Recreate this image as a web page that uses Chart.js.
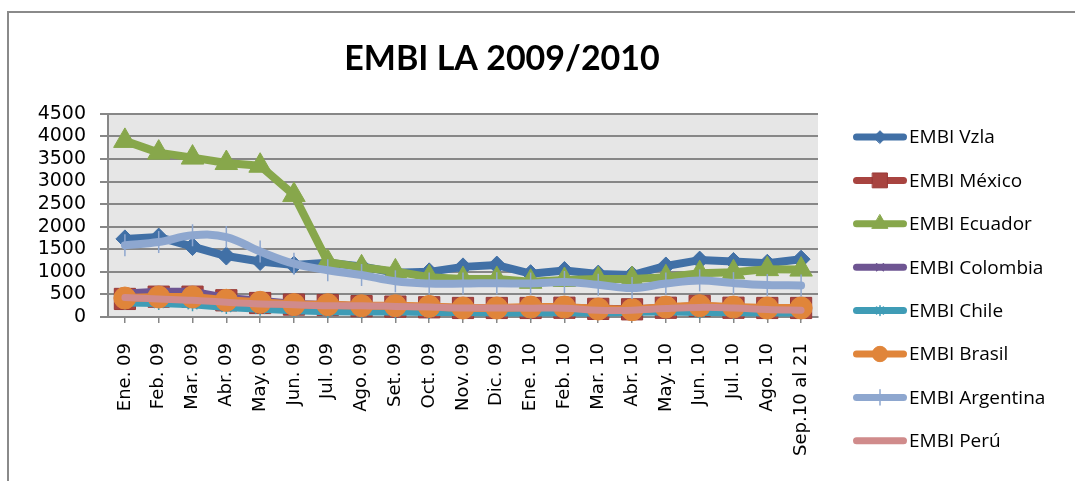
<!DOCTYPE html>
<html>
<head>
<meta charset="utf-8">
<title>EMBI LA 2009/2010</title>
<script src="https://cdn.jsdelivr.net/npm/chart.js@4"></script>
<style>
  html, body { margin: 0; padding: 0; background: #fff; }
  #wrap { position: relative; width: 1075px; height: 481px; overflow: hidden; }
</style>
</head>
<body>
<div id="wrap"><canvas id="embiChart" width="1075" height="481"></canvas></div>
<script>
// Categories (months)
const months = [
    'Ene. 09', 'Feb. 09', 'Mar. 09', 'Abr. 09', 'May. 09', 'Jun. 09',
    'Jul. 09', 'Ago. 09', 'Set. 09', 'Oct. 09', 'Nov. 09', 'Dic. 09',
    'Ene. 10', 'Feb. 10', 'Mar. 10', 'Abr. 10', 'May. 10', 'Jun. 10',
    'Jul. 10', 'Ago. 10', 'Sep.10 al 21'
];

// Series values (basis points)
const embiVzla      = [1730, 1770, 1560, 1350, 1230, 1150, 1200, 1120, 980, 1000, 1110, 1150, 960, 1030, 950, 930, 1130, 1260, 1230, 1190, 1280];
const embiMexico    = [400, 450, 450, 370, 310, 275, 265, 240, 230, 215, 200, 200, 200, 205, 180, 170, 205, 245, 205, 200, 200];
const embiEcuador   = [3900, 3640, 3530, 3410, 3350, 2700, 1220, 1100, 1010, 880, 840, 840, 780, 820, 840, 840, 880, 970, 990, 1060, 1050];
const embiColombia  = [520, 560, 560, 420, 360, 290, 260, 230, 220, 200, 190, 190, 180, 170, 160, 160, 180, 170, 160, 170, 170];
const embiChile     = [320, 310, 280, 220, 180, 150, 130, 120, 120, 110, 110, 100, 100, 105, 95, 115, 120, 110, 105, 100, 100];
const embiBrasil    = [420, 443, 443, 370, 325, 275, 273, 250, 250, 235, 200, 200, 220, 220, 177, 162, 220, 250, 220, 200, 200];
const embiArgentina = [1590, 1660, 1810, 1770, 1450, 1180, 1035, 930, 790, 740, 740, 750, 740, 775, 715, 640, 740, 810, 750, 710, 700];
const embiPeru      = [430, 400, 370, 325, 290, 273, 250, 250, 235, 220, 200, 200, 195, 195, 150, 150, 190, 213, 200, 165, 150];

// Y axis ticks
const yTicks = [0, 500, 1000, 1500, 2000, 2500, 3000, 3500, 4000, 4500];

const GRID = '#878787';

function series(label, data, color, marker, extra) {
    return Object.assign({
        label: label,
        data: data,
        borderColor: color,
        backgroundColor: color,
        borderWidth: 8,
        borderJoinStyle: 'round',
        borderCapStyle: 'round',
        pointStyle: marker,
        pointBackgroundColor: color,
        pointBorderColor: color,
        pointBorderWidth: 1,
        pointRadius: 7,
        tension: 0,
        clip: false
    }, extra || {});
}

const datasets = [
    series('EMBI Vzla', embiVzla, '#4170a6', 'rectRot', { pointRadius: 9, order: 8 }),
    series('EMBI México', embiMexico, '#a84440', 'rect', { pointRadius: 15, pointBorderColor: '#983935', order: 7 }),
    series('EMBI Ecuador', embiEcuador, '#87a74b', 'triangle', { pointRadius: 13, order: 6 }),
    series('EMBI Colombia', embiColombia, '#6e5592', 'crossRot', { pointRadius: 7, pointBorderWidth: 1.5, order: 5 }),
    series('EMBI Chile', embiChile, '#3f9cb6', 'star', { pointRadius: 7, pointBorderWidth: 1.5, order: 4 }),
    series('EMBI Brasil', embiBrasil, '#e0853a', 'circle', { pointRadius: 11, order: 3 }),
    series('EMBI Argentina', embiArgentina, '#8ea7cf', 'line', { pointRadius: 11, pointRotation: 90, pointBorderWidth: 1.5, tension: 0.4, order: 2 }),
    series('EMBI Perú', embiPeru, '#d08b8b', false, { pointRadius: 0, borderWidth: 7, tension: 0.4, order: 1 })
];

// Frame + grey plot background
const backdrop = {
    id: 'backdrop',
    beforeDraw(chart) {
        const ctx = chart.ctx;
        const a = chart.chartArea;
        ctx.save();
        ctx.fillStyle = '#8a8a8a';
        ctx.fillRect(7, 11, chart.width, 2);
        ctx.fillRect(7, 11, 2, chart.height);
        ctx.fillStyle = '#e6e6e6';
        ctx.fillRect(a.left, a.top, a.right - a.left, a.bottom - a.top);
        ctx.restore();
    }
};

// Excel-like legend: line sample with marker in the middle
const sideLegend = {
    id: 'sideLegend',
    afterDraw(chart) {
        const ctx = chart.ctx;
        chart.data.datasets.forEach((ds, i) => {
            const y = 137 + i * 43.4;
            ctx.save();
            ctx.strokeStyle = ds.borderColor;
            ctx.lineWidth = 7;
            ctx.lineCap = 'round';
            ctx.beginPath();
            ctx.moveTo(856.5, y);
            ctx.lineTo(903.5, y);
            ctx.stroke();
            if (ds.pointStyle && ds.pointRadius > 0 && Chart.helpers && Chart.helpers.drawPoint) {
                ctx.fillStyle = ds.pointBackgroundColor;
                ctx.strokeStyle = ds.pointBorderColor;
                ctx.lineWidth = ds.pointBorderWidth;
                Chart.helpers.drawPoint(ctx, {
                    pointStyle: ds.pointStyle,
                    rotation: ds.pointRotation || 0,
                    radius: ds.pointRadius * 0.7,
                    borderWidth: ds.pointBorderWidth
                }, 880, y);
            }
            ctx.fillStyle = '#000';
            ctx.font = '19px "Open Sans"';
            ctx.textAlign = 'left';
            ctx.textBaseline = 'middle';
            ctx.fillText(ds.label, 909, y + 1);
            ctx.restore();
        });
    }
};

document.addEventListener('DOMContentLoaded', function() {
    const ctx = document.getElementById('embiChart');
    new Chart(ctx, {
        type: 'line',
        data: { labels: months, datasets: datasets },
        options: {
            responsive: false,
            animation: false,
            events: [],
            layout: { padding: { left: 0, right: 71, top: 0, bottom: 0 } },
            plugins: {
                legend: { display: false },
                tooltip: { enabled: false },
                title: {
                    display: true,
                    text: 'EMBI LA 2009/2010',
                    color: '#000',
                    font: { family: 'Lato', size: 34, weight: 'bold', lineHeight: 1.2 },
                    padding: { top: 39, bottom: 34 }
                }
            },
            scales: {
                x: {
                    offset: true,
                    grid: {
                        drawOnChartArea: false,
                        drawTicks: true,
                        tickLength: 6,
                        color: GRID,
                        lineWidth: 1.5
                    },
                    border: { display: true, color: GRID, width: 2 },
                    ticks: {
                        autoSkip: false,
                        maxRotation: 90,
                        minRotation: 90,
                        padding: 20,
                        color: '#000',
                        font: { family: 'DejaVu Sans', size: 18 }
                    },
                    afterFit(scale) { scale.height = 164; }
                },
                y: {
                    min: yTicks[0],
                    max: yTicks[yTicks.length - 1],
                    afterBuildTicks(scale) { scale.ticks = yTicks.map(v => ({ value: v })); },
                    grid: { color: GRID, lineWidth: 2, tickLength: 8 },
                    border: { display: true, color: GRID, width: 2 },
                    ticks: {
                        autoSkip: false,
                        padding: 14,
                        color: '#000',
                        font: { family: 'DejaVu Sans', size: 19 },
                        callback: (value) => String(value)
                    },
                    afterFit(scale) { scale.width = 108; }
                },
                // empty right-hand band that holds the legend
                legendSpace: {
                    position: 'right',
                    min: 0,
                    max: 1,
                    grid: { display: false, drawTicks: false },
                    border: { display: false },
                    ticks: { display: false },
                    afterFit(scale) { scale.width = 186; }
                }
            }
        },
        plugins: [backdrop, sideLegend]
    });
});
</script>
</body>
</html>
